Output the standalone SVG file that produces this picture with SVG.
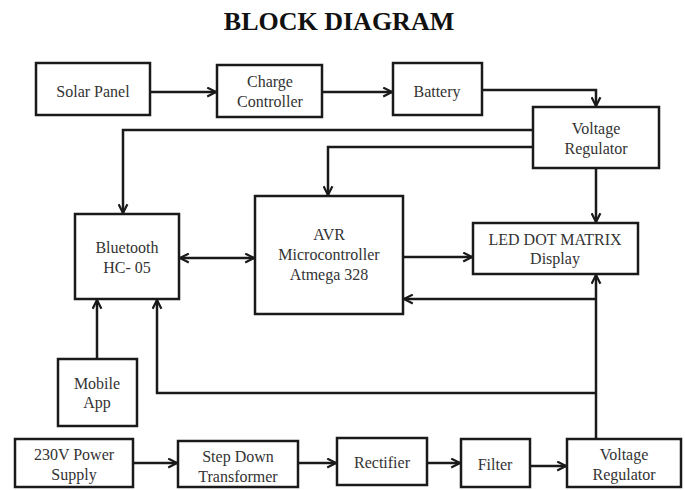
<svg xmlns="http://www.w3.org/2000/svg" width="685" height="490" viewBox="0 0 685 490">
<defs>
<style>
.box{fill:#fff;stroke:#1a1a1a;stroke-width:2.5}
.t{font-family:"Liberation Serif","Times New Roman",serif;font-size:16px;fill:#333;text-anchor:middle}
.title{font-family:"Liberation Serif","Times New Roman",serif;font-size:26px;font-weight:bold;fill:#111;text-anchor:middle}
.c{fill:none;stroke:#1a1a1a;stroke-width:2.5}
</style>
<marker id="ah" viewBox="0 0 10 10" refX="9" refY="5" markerWidth="11" markerHeight="11" markerUnits="userSpaceOnUse" orient="auto-start-reverse">
<path d="M1,1 L9,5 L1,9" fill="none" stroke="#1a1a1a" stroke-width="2"/>
</marker>
</defs>
<rect width="685" height="490" fill="#fff"/>
<text class="title" x="339" y="30">BLOCK DIAGRAM</text>

<g id="connectors">
<path class="c" d="M150,92 H216" marker-end="url(#ah)"/>
<path class="c" d="M322,92 H392" marker-end="url(#ah)"/>
<path class="c" d="M482,90 H596 V106" marker-end="url(#ah)"/>
<path class="c" d="M533,130 H123 V213" marker-end="url(#ah)"/>
<path class="c" d="M533,147 H328 V195" marker-end="url(#ah)"/>
<path class="c" d="M596,168 V222" marker-end="url(#ah)"/>
<path class="c" d="M180,258 H254" marker-start="url(#ah)" marker-end="url(#ah)"/>
<path class="c" d="M403,257 H472" marker-end="url(#ah)"/>
<path class="c" d="M596,439 V275" marker-end="url(#ah)"/>
<path class="c" d="M596,299 H404" marker-end="url(#ah)"/>
<path class="c" d="M97,359 V300" marker-end="url(#ah)"/>
<path class="c" d="M596,393 H157 V300" marker-end="url(#ah)"/>
<path class="c" d="M133,463 H177" marker-end="url(#ah)"/>
<path class="c" d="M298,463 H336" marker-end="url(#ah)"/>
<path class="c" d="M427,463 H460" marker-end="url(#ah)"/>
<path class="c" d="M530,466 H566" marker-end="url(#ah)"/>
</g>

<g id="solar-panel"><rect class="box" x="36" y="63" width="114" height="52"/><text class="t" x="93" y="97">Solar Panel</text></g>
<g id="charge-controller"><rect class="box" x="217" y="65" width="105" height="52"/><text class="t" x="270" y="87">Charge</text><text class="t" x="270" y="107">Controller</text></g>
<g id="battery"><rect class="box" x="393" y="63" width="89" height="52"/><text class="t" x="437" y="97">Battery</text></g>
<g id="voltage-regulator-top"><rect class="box" x="533" y="107" width="126" height="61"/><text class="t" x="596" y="134">Voltage</text><text class="t" x="596" y="154">Regulator</text></g>
<g id="bluetooth"><rect class="box" x="75" y="214" width="104" height="85"/><text class="t" x="127" y="253">Bluetooth</text><text class="t" x="127" y="273">HC- 05</text></g>
<g id="avr"><rect class="box" x="255" y="196" width="148" height="118"/><text class="t" x="329" y="240">AVR</text><text class="t" x="329" y="260">Microcontroller</text><text class="t" x="329" y="280">Atmega 328</text></g>
<g id="led-display"><rect class="box" x="473" y="223" width="165" height="51"/><text class="t" x="555" y="245">LED DOT MATRIX</text><text class="t" x="555" y="264">Display</text></g>
<g id="mobile-app"><rect class="box" x="58" y="359" width="79" height="67"/><text class="t" x="97" y="389">Mobile</text><text class="t" x="97" y="408">App</text></g>
<g id="power-supply"><rect class="box" x="15" y="439" width="118" height="48"/><text class="t" x="74" y="460">230V Power</text><text class="t" x="74" y="480">Supply</text></g>
<g id="step-down"><rect class="box" x="178" y="441" width="120" height="46"/><text class="t" x="238" y="462">Step Down</text><text class="t" x="238" y="482">Transformer</text></g>
<g id="rectifier"><rect class="box" x="337" y="438" width="90" height="47"/><text class="t" x="382" y="468">Rectifier</text></g>
<g id="filter"><rect class="box" x="461" y="439" width="69" height="48"/><text class="t" x="495" y="470">Filter</text></g>
<g id="voltage-regulator-bottom"><rect class="box" x="567" y="439" width="114" height="48"/><text class="t" x="624" y="460">Voltage</text><text class="t" x="624" y="480">Regulator</text></g>
</svg>
